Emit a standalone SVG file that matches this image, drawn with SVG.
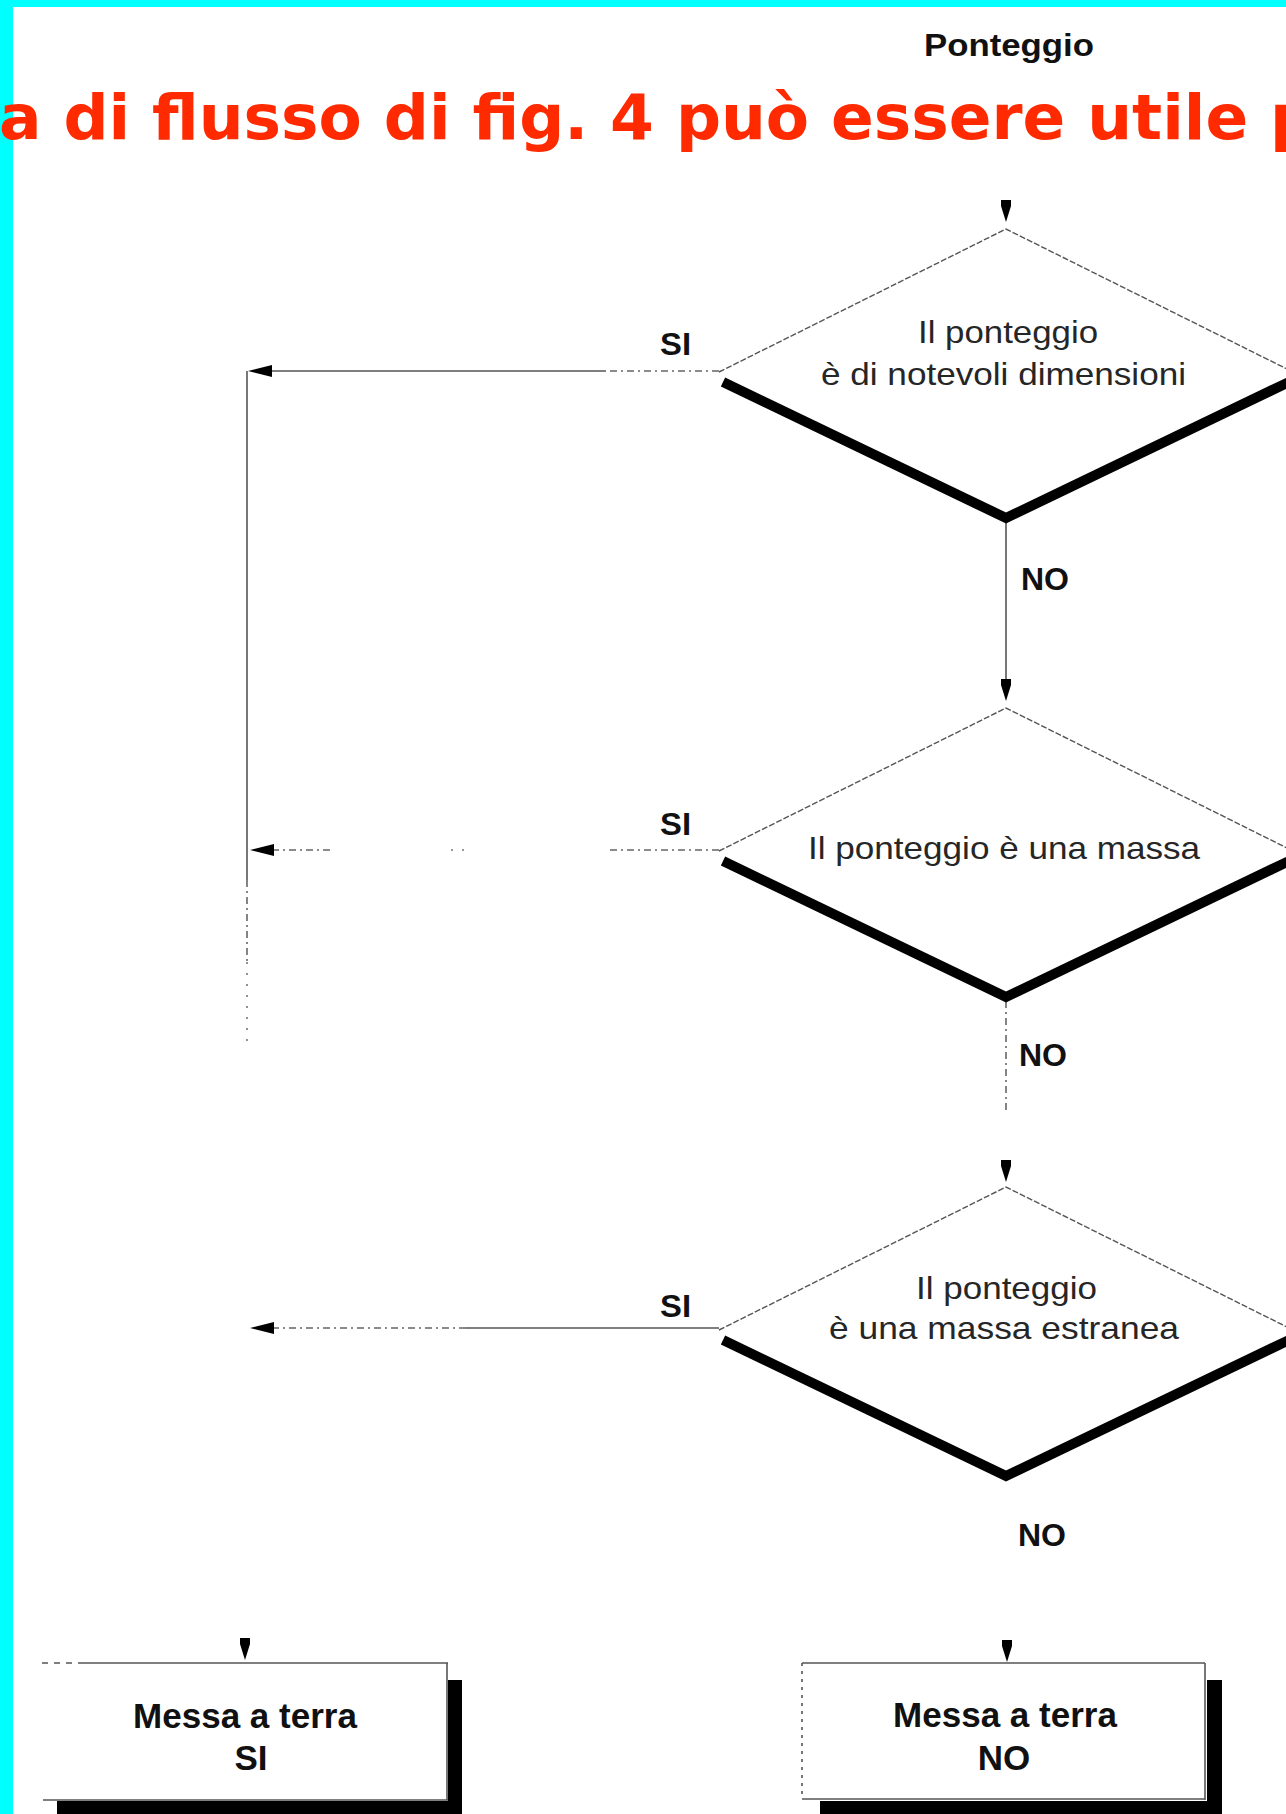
<svg xmlns="http://www.w3.org/2000/svg" xmlns:xlink="http://www.w3.org/1999/xlink" width="1286" height="1814" viewBox="0 0 1286 1814">
  <style>
    .thin { fill: none; stroke: #555; stroke-width: 1.4; stroke-dasharray: 6 2; }
    .thick { fill: none; stroke: #000; stroke-width: 10; stroke-linejoin: miter; }
    .face { fill: #fff; stroke: none; }
    .dtext { font-family: "Liberation Sans", Arial, sans-serif; font-size: 32px; fill: #262626; }
    .lbl { font-family: "Liberation Sans", Arial, sans-serif; font-weight: bold; font-size: 31px; fill: #111; }
    .btext { font-family: "Liberation Sans", Arial, sans-serif; font-weight: bold; font-size: 35px; fill: #111; text-anchor: middle; }
    .wire { fill: none; stroke: #555; stroke-width: 1.6; }
    .wire-dash { fill: none; stroke: #666; stroke-width: 1.6; stroke-dasharray: 7 4 2 4; }
    .wire-dot { fill: none; stroke: #777; stroke-width: 1.6; stroke-dasharray: 2 9; }
    .head { fill: #000; }
    .boxline { fill: none; stroke: #555; stroke-width: 1.6; }
    .shadow { fill: #000; }
  </style>
  <defs>
    <path id="headDown" class="head" d="M-5,-22 L5,-22 L5,-16 L0,0 L-5,-16 Z"/>
    <path id="headLeft" class="head" d="M0,0 L24,-6 L24,6 Z"/>
  </defs>

  <rect width="1286" height="1814" fill="#fff"/>

  <!-- cyan frame strips -->
  <rect x="0" y="0" width="1286" height="7" fill="#00ffff"/>
  <rect x="0" y="0" width="13" height="1814" fill="#00ffff"/>

  <!-- headline -->
  <text id="headline" x="-1" y="139" font-family="DejaVu Sans, Verdana, sans-serif" font-weight="bold" font-size="63" fill="#ff2a00">a di flusso di fig. 4 può essere utile p</text>

  <!-- start label -->
  <g id="start">
    <text class="lbl" x="924" y="56" font-size="34" textLength="170" lengthAdjust="spacingAndGlyphs">Ponteggio</text>
  </g>

  <!-- connectors -->
  <g id="connectors">
    <use xlink:href="#headDown" x="1006" y="222"/>

    <!-- D1 NO -> D2 -->
    <line class="wire" x1="1006" y1="520" x2="1006" y2="684"/>
    <use xlink:href="#headDown" x="1006" y="701"/>

    <!-- D2 NO -> D3 -->
    <line class="wire-dash" x1="1006" y1="1001" x2="1006" y2="1110"/>
    <use xlink:href="#headDown" x="1006" y="1182"/>

    <!-- D3 NO -> box NO -->
    <use xlink:href="#headDown" x="1007" y="1662"/>

    <!-- D1 SI -->
    <line class="wire" x1="270" y1="371" x2="606" y2="371"/>
    <line class="wire-dash" x1="610" y1="371" x2="719" y2="371"/>
    <use xlink:href="#headLeft" x="248" y="371"/>

    <!-- left collector line -->
    <line class="wire" x1="247" y1="371" x2="247" y2="880"/>
    <line class="wire-dash" x1="247" y1="880" x2="247" y2="962"/>
    <line class="wire-dot" x1="247" y1="962" x2="247" y2="1045"/>

    <!-- D2 SI -->
    <line class="wire-dash" x1="272" y1="850" x2="331" y2="850"/>
    <line class="wire-dot" x1="451" y1="850" x2="470" y2="850"/>
    <line class="wire-dash" x1="610" y1="850" x2="719" y2="850"/>
    <use xlink:href="#headLeft" x="250" y="850"/>

    <!-- D3 SI -->
    <line class="wire-dash" x1="272" y1="1328" x2="465" y2="1328"/>
    <line class="wire" x1="465" y1="1328" x2="719" y2="1328"/>
    <use xlink:href="#headLeft" x="250" y="1328"/>

    <!-- SI -> box SI -->
    <use xlink:href="#headDown" x="245" y="1660"/>

    <!-- branch labels -->
    <text class="lbl" x="660" y="355" font-size="30" textLength="31" lengthAdjust="spacingAndGlyphs">SI</text>
    <text class="lbl" x="660" y="835" font-size="30" textLength="31" lengthAdjust="spacingAndGlyphs">SI</text>
    <text class="lbl" x="660" y="1317" font-size="30" textLength="31" lengthAdjust="spacingAndGlyphs">SI</text>
    <text class="lbl" x="1021" y="590" textLength="48" lengthAdjust="spacingAndGlyphs">NO</text>
    <text class="lbl" x="1019" y="1066" textLength="48" lengthAdjust="spacingAndGlyphs">NO</text>
    <text class="lbl" x="1018" y="1546" textLength="48" lengthAdjust="spacingAndGlyphs">NO</text>
  </g>

  <!-- decision 1 -->
  <g id="decision-size">
    <polygon class="face" points="1006,229 1293,372 1006,515 719,372"/>
    <polyline class="thin" points="719,372 1006,229 1293,372"/>
    <polyline class="thick" points="723,382 1006,518 1289,382"/>
    <text class="dtext" x="918" y="343" textLength="180" lengthAdjust="spacingAndGlyphs">Il ponteggio</text>
    <text class="dtext" x="821" y="385" textLength="365" lengthAdjust="spacingAndGlyphs">è di notevoli dimensioni</text>
  </g>

  <!-- decision 2 -->
  <g id="decision-mass">
    <polygon class="face" points="1006,708 1293,851 1006,994 719,851"/>
    <polyline class="thin" points="719,851 1006,708 1293,851"/>
    <polyline class="thick" points="723,861 1006,997 1289,861"/>
    <text class="dtext" x="808" y="859" textLength="392" lengthAdjust="spacingAndGlyphs">Il ponteggio è una massa</text>
  </g>

  <!-- decision 3 -->
  <g id="decision-extraneous">
    <polygon class="face" points="1006,1187 1293,1330 1006,1473 719,1330"/>
    <polyline class="thin" points="719,1330 1006,1187 1293,1330"/>
    <polyline class="thick" points="723,1340 1006,1476 1289,1340"/>
    <text class="dtext" x="916" y="1299" textLength="181" lengthAdjust="spacingAndGlyphs">Il ponteggio</text>
    <text class="dtext" x="829" y="1339" textLength="350" lengthAdjust="spacingAndGlyphs">è una massa estranea</text>
  </g>

  <!-- result: earthing required -->
  <g id="result-yes">
    <rect class="shadow" x="448" y="1680" width="14" height="134"/>
    <rect class="shadow" x="57" y="1801" width="405" height="13"/>
    <line class="boxline" x1="42" y1="1663" x2="84" y2="1663" stroke-dasharray="6 6"/>
    <line class="boxline" x1="84" y1="1663" x2="448" y2="1663"/>
    <line class="boxline" x1="447" y1="1663" x2="447" y2="1800"/>
    <line class="boxline" x1="43" y1="1800" x2="448" y2="1800"/>
    <text class="btext" x="245" y="1728">Messa a terra</text>
    <text class="btext" x="251" y="1770">SI</text>
  </g>

  <!-- result: earthing not required -->
  <g id="result-no">
    <rect class="shadow" x="1207" y="1680" width="15" height="134"/>
    <rect class="shadow" x="820" y="1801" width="402" height="13"/>
    <line class="boxline" x1="802" y1="1663" x2="1205" y2="1663"/>
    <line class="boxline" x1="802" y1="1663" x2="802" y2="1799" stroke-dasharray="3 5"/>
    <line class="boxline" x1="1205" y1="1663" x2="1205" y2="1800"/>
    <line class="boxline" x1="802" y1="1799" x2="1205" y2="1799"/>
    <text class="btext" x="1005" y="1727">Messa a terra</text>
    <text class="btext" x="1004" y="1770">NO</text>
  </g>
</svg>
